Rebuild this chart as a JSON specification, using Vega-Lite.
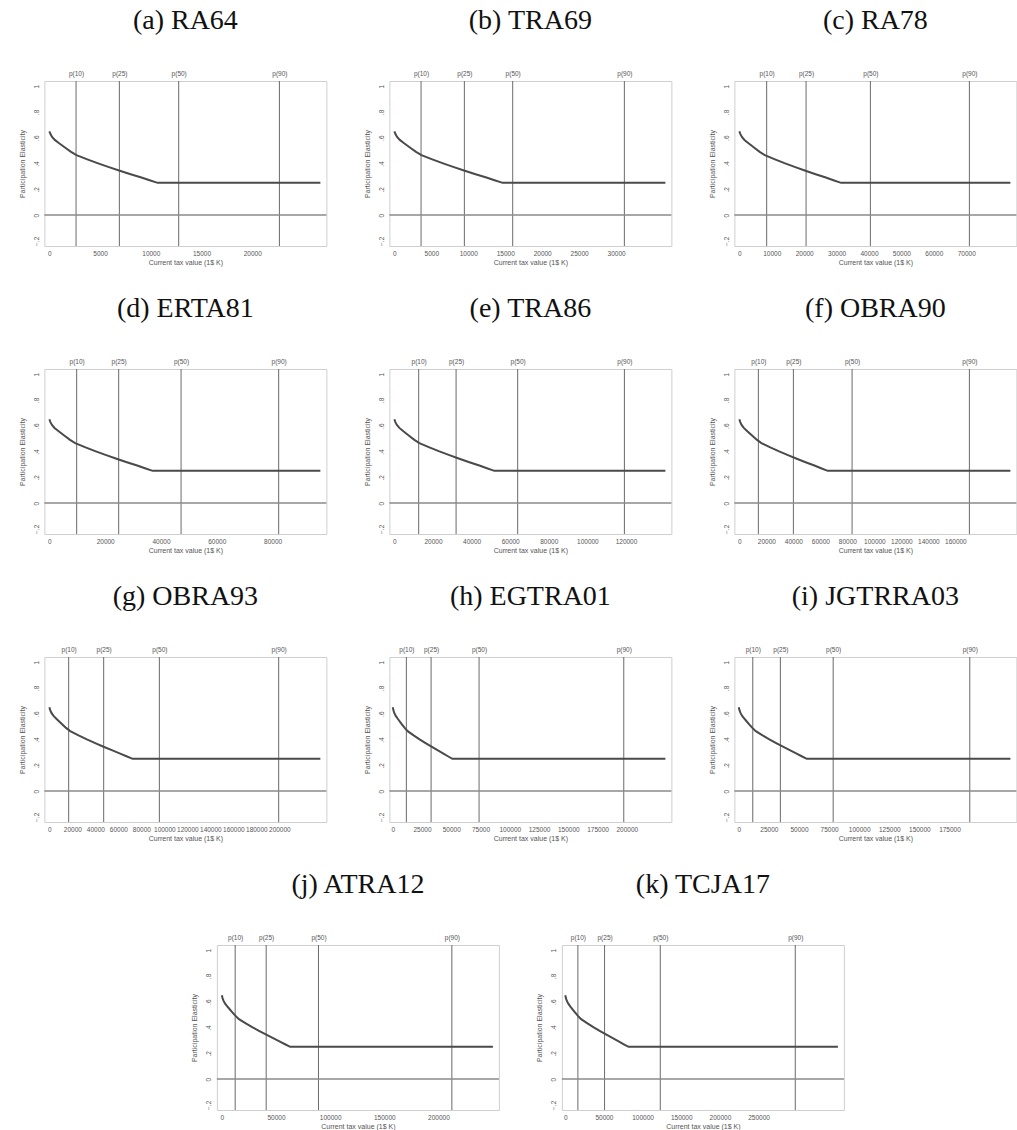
{
"$schema":"https://vega.github.io/schema/vega-lite/v6.json",
"padding":{"left":17,"top":6,"right":0,"bottom":0},
"background":"white",
"config":{
 "font":"Liberation Sans",
 "view":{"stroke":"#cfcfcf","strokeWidth":1},
 "title":{"font":"Liberation Serif","fontSize":28,"fontWeight":"normal","color":"#111","offset":35,"anchor":"middle"},
 "axis":{"labelFontSize":6.5,"titleFontSize":7,"labelColor":"#555","titleColor":"#555","titleFontWeight":"normal","domain":false,"ticks":false,"gridColor":"#efefef","gridWidth":1,"labelOverlap":false},
 "axisY":{"labelOverlap":false,"labelFlush":false,"values":[-0.2,0,0.2,0.4,0.6,0.8,1],"labelExpr":"replace(format(datum.value,'.1~f'),'0.','.')","labelAngle":-90,"labelAlign":"center","labelBaseline":"bottom","labelPadding":5,"titlePadding":8}
},
"datasets":{
"curve":[
{"p":"a","x":0,"y":0.650},{"p":"a","x":107,"y":0.628},{"p":"a","x":267,"y":0.606},{"p":"a","x":534,"y":0.583},{"p":"a","x":961,"y":0.557},{"p":"a","x":1602,"y":0.520},{"p":"a","x":2136,"y":0.490},{"p":"a","x":2670,"y":0.465},{"p":"a","x":3738,"y":0.432},{"p":"a","x":4806,"y":0.401},{"p":"a","x":5874,"y":0.372},{"p":"a","x":6942,"y":0.344},{"p":"a","x":8010,"y":0.317},{"p":"a","x":9078,"y":0.291},{"p":"a","x":9879,"y":0.270},{"p":"a","x":10680,"y":0.250},{"p":"a","x":26720,"y":0.250},
{"p":"b","x":0,"y":0.650},{"p":"b","x":147,"y":0.628},{"p":"b","x":366,"y":0.606},{"p":"b","x":733,"y":0.583},{"p":"b","x":1319,"y":0.557},{"p":"b","x":2198,"y":0.520},{"p":"b","x":2930,"y":0.490},{"p":"b","x":3663,"y":0.465},{"p":"b","x":5128,"y":0.432},{"p":"b","x":6593,"y":0.401},{"p":"b","x":8058,"y":0.372},{"p":"b","x":9523,"y":0.344},{"p":"b","x":10988,"y":0.317},{"p":"b","x":12453,"y":0.291},{"p":"b","x":13551,"y":0.270},{"p":"b","x":14650,"y":0.250},{"p":"b","x":36670,"y":0.250},
{"p":"c","x":0,"y":0.650},{"p":"c","x":314,"y":0.628},{"p":"c","x":785,"y":0.606},{"p":"c","x":1569,"y":0.583},{"p":"c","x":2824,"y":0.557},{"p":"c","x":4707,"y":0.520},{"p":"c","x":6276,"y":0.490},{"p":"c","x":7845,"y":0.465},{"p":"c","x":10983,"y":0.432},{"p":"c","x":14121,"y":0.401},{"p":"c","x":17259,"y":0.372},{"p":"c","x":20397,"y":0.344},{"p":"c","x":23535,"y":0.317},{"p":"c","x":26673,"y":0.291},{"p":"c","x":29027,"y":0.270},{"p":"c","x":31380,"y":0.250},{"p":"c","x":83630,"y":0.250},
{"p":"d","x":0,"y":0.650},{"p":"d","x":370,"y":0.628},{"p":"d","x":926,"y":0.606},{"p":"d","x":1851,"y":0.583},{"p":"d","x":3332,"y":0.557},{"p":"d","x":5553,"y":0.520},{"p":"d","x":7404,"y":0.490},{"p":"d","x":9255,"y":0.465},{"p":"d","x":12957,"y":0.432},{"p":"d","x":16659,"y":0.401},{"p":"d","x":20361,"y":0.372},{"p":"d","x":24063,"y":0.344},{"p":"d","x":27765,"y":0.317},{"p":"d","x":31467,"y":0.291},{"p":"d","x":34244,"y":0.270},{"p":"d","x":37020,"y":0.250},{"p":"d","x":97130,"y":0.250},
{"p":"e","x":0,"y":0.650},{"p":"e","x":518,"y":0.628},{"p":"e","x":1295,"y":0.606},{"p":"e","x":2591,"y":0.583},{"p":"e","x":4663,"y":0.557},{"p":"e","x":7772,"y":0.520},{"p":"e","x":10362,"y":0.490},{"p":"e","x":12953,"y":0.465},{"p":"e","x":18134,"y":0.432},{"p":"e","x":23315,"y":0.401},{"p":"e","x":28496,"y":0.372},{"p":"e","x":33677,"y":0.344},{"p":"e","x":38858,"y":0.317},{"p":"e","x":44039,"y":0.291},{"p":"e","x":47924,"y":0.270},{"p":"e","x":51810,"y":0.250},{"p":"e","x":140400,"y":0.250},
{"p":"f","x":0,"y":0.650},{"p":"f","x":654,"y":0.628},{"p":"f","x":1635,"y":0.606},{"p":"f","x":3270,"y":0.583},{"p":"f","x":5886,"y":0.557},{"p":"f","x":9810,"y":0.520},{"p":"f","x":13080,"y":0.490},{"p":"f","x":16350,"y":0.465},{"p":"f","x":22890,"y":0.432},{"p":"f","x":29430,"y":0.401},{"p":"f","x":35970,"y":0.372},{"p":"f","x":42510,"y":0.344},{"p":"f","x":49050,"y":0.317},{"p":"f","x":55590,"y":0.291},{"p":"f","x":60495,"y":0.270},{"p":"f","x":65400,"y":0.250},{"p":"f","x":200730,"y":0.250},
{"p":"g","x":0,"y":0.650},{"p":"g","x":724,"y":0.628},{"p":"g","x":1811,"y":0.606},{"p":"g","x":3622,"y":0.583},{"p":"g","x":6520,"y":0.557},{"p":"g","x":10866,"y":0.520},{"p":"g","x":14488,"y":0.490},{"p":"g","x":18110,"y":0.465},{"p":"g","x":25354,"y":0.432},{"p":"g","x":32598,"y":0.401},{"p":"g","x":39842,"y":0.372},{"p":"g","x":47086,"y":0.344},{"p":"g","x":54330,"y":0.317},{"p":"g","x":61574,"y":0.291},{"p":"g","x":67007,"y":0.270},{"p":"g","x":72440,"y":0.250},{"p":"g","x":235660,"y":0.250},
{"p":"h","x":0,"y":0.650},{"p":"h","x":509,"y":0.628},{"p":"h","x":1274,"y":0.606},{"p":"h","x":2547,"y":0.583},{"p":"h","x":4585,"y":0.557},{"p":"h","x":7641,"y":0.520},{"p":"h","x":10188,"y":0.490},{"p":"h","x":12735,"y":0.465},{"p":"h","x":17829,"y":0.432},{"p":"h","x":22923,"y":0.401},{"p":"h","x":28017,"y":0.372},{"p":"h","x":33111,"y":0.344},{"p":"h","x":38205,"y":0.317},{"p":"h","x":43299,"y":0.291},{"p":"h","x":47120,"y":0.270},{"p":"h","x":50940,"y":0.250},{"p":"h","x":232990,"y":0.250},
{"p":"i","x":0,"y":0.650},{"p":"i","x":565,"y":0.628},{"p":"i","x":1412,"y":0.606},{"p":"i","x":2824,"y":0.583},{"p":"i","x":5083,"y":0.557},{"p":"i","x":8472,"y":0.520},{"p":"i","x":11296,"y":0.490},{"p":"i","x":14120,"y":0.465},{"p":"i","x":19768,"y":0.432},{"p":"i","x":25416,"y":0.401},{"p":"i","x":31064,"y":0.372},{"p":"i","x":36712,"y":0.344},{"p":"i","x":42360,"y":0.317},{"p":"i","x":48008,"y":0.291},{"p":"i","x":52244,"y":0.270},{"p":"i","x":56480,"y":0.250},{"p":"i","x":225600,"y":0.250},
{"p":"j","x":0,"y":0.650},{"p":"j","x":631,"y":0.628},{"p":"j","x":1577,"y":0.606},{"p":"j","x":3154,"y":0.583},{"p":"j","x":5676,"y":0.557},{"p":"j","x":9461,"y":0.520},{"p":"j","x":12614,"y":0.490},{"p":"j","x":15768,"y":0.465},{"p":"j","x":22075,"y":0.432},{"p":"j","x":28382,"y":0.401},{"p":"j","x":34689,"y":0.372},{"p":"j","x":40996,"y":0.344},{"p":"j","x":47303,"y":0.317},{"p":"j","x":53610,"y":0.291},{"p":"j","x":58340,"y":0.270},{"p":"j","x":63070,"y":0.250},{"p":"j","x":250240,"y":0.250},
{"p":"k","x":0,"y":0.650},{"p":"k","x":819,"y":0.628},{"p":"k","x":2047,"y":0.606},{"p":"k","x":4094,"y":0.583},{"p":"k","x":7368,"y":0.557},{"p":"k","x":12281,"y":0.520},{"p":"k","x":16374,"y":0.490},{"p":"k","x":20468,"y":0.465},{"p":"k","x":28655,"y":0.432},{"p":"k","x":36842,"y":0.401},{"p":"k","x":45029,"y":0.372},{"p":"k","x":53216,"y":0.344},{"p":"k","x":61403,"y":0.317},{"p":"k","x":69590,"y":0.291},{"p":"k","x":75730,"y":0.270},{"p":"k","x":81870,"y":0.250},{"p":"k","x":352560,"y":0.250}
],
"pct":[
{"p":"a","x":2630,"label":"p(10)"},{"p":"a","x":6900,"label":"p(25)"},{"p":"a","x":12750,"label":"p(50)"},{"p":"a","x":22680,"label":"p(90)"},
{"p":"b","x":3610,"label":"p(10)"},{"p":"b","x":9470,"label":"p(25)"},{"p":"b","x":16010,"label":"p(50)"},{"p":"b","x":31120,"label":"p(90)"},
{"p":"c","x":8420,"label":"p(10)"},{"p":"c","x":20580,"label":"p(25)"},{"p":"c","x":40430,"label":"p(50)"},{"p":"c","x":70980,"label":"p(90)"},
{"p":"d","x":9780,"label":"p(10)"},{"p":"d","x":24840,"label":"p(25)"},{"p":"d","x":47200,"label":"p(50)"},{"p":"d","x":82180,"label":"p(90)"},
{"p":"e","x":12590,"label":"p(10)"},{"p":"e","x":31970,"label":"p(25)"},{"p":"e","x":63880,"label":"p(50)"},{"p":"e","x":119170,"label":"p(90)"},
{"p":"f","x":14070,"label":"p(10)"},{"p":"f","x":40000,"label":"p(25)"},{"p":"f","x":83480,"label":"p(50)"},{"p":"f","x":170370,"label":"p(90)"},
{"p":"g","x":16780,"label":"p(10)"},{"p":"g","x":47220,"label":"p(25)"},{"p":"g","x":95650,"label":"p(50)"},{"p":"g","x":199400,"label":"p(90)"},
{"p":"h","x":11620,"label":"p(10)"},{"p":"h","x":32740,"label":"p(25)"},{"p":"h","x":73760,"label":"p(50)"},{"p":"h","x":197440,"label":"p(90)"},
{"p":"i","x":11630,"label":"p(10)"},{"p":"i","x":34550,"label":"p(25)"},{"p":"i","x":78410,"label":"p(50)"},{"p":"i","x":191870,"label":"p(90)"},
{"p":"j","x":12280,"label":"p(10)"},{"p":"j","x":40910,"label":"p(25)"},{"p":"j","x":89200,"label":"p(50)"},{"p":"j","x":212380,"label":"p(90)"},
{"p":"k","x":16300,"label":"p(10)"},{"p":"k","x":50830,"label":"p(25)"},{"p":"k","x":122860,"label":"p(50)"},{"p":"k","x":297460,"label":"p(90)"}
]
},
"vconcat":[
{"hconcat":[
{"width":282,"height":165,"title":"(a) RA64","layer":[
 {"data":{"name":"pct"},"transform":[{"filter":"datum.p=='a'"}],"mark":{"type":"rule","color":"#6a6a6a","strokeWidth":1},
  "encoding":{"x":{"field":"x","type":"quantitative","scale":{"domain":[-493,27310],"nice":false,"zero":false},"axis":{"orient":"top","values":[2630,6900,12750,22680],"labelExpr":"datum.value==2630?'p(10)':datum.value==6900?'p(25)':datum.value==12750?'p(50)':'p(90)'","grid":false,"title":null,"labelPadding":5}}}},
 {"data":{"values":[{}]},"mark":{"type":"rule","color":"#8a8a8a","strokeWidth":1.5},"encoding":{"y":{"datum":0,"type":"quantitative","title":"Participation Elasticity"}}},
 {"data":{"name":"curve"},"transform":[{"filter":"datum.p=='a'"}],"mark":{"type":"line","color":"#4a4a4a","strokeWidth":2},
  "encoding":{"x":{"field":"x","type":"quantitative","axis":{"values":[0,5000,10000,15000,20000],"format":"d","title":"Current tax value (1$ K)","labelPadding":4,"titlePadding":2}},
   "y":{"field":"y","type":"quantitative","scale":{"domain":[-0.24,1.04],"nice":false,"zero":false},"title":"Participation Elasticity"}}}
 ],"resolve":{"axis":{"x":"independent"}}},
{"width":282,"height":165,"title":"(b) TRA69","layer":[
 {"data":{"name":"pct"},"transform":[{"filter":"datum.p=='b'"}],"mark":{"type":"rule","color":"#6a6a6a","strokeWidth":1},
  "encoding":{"x":{"field":"x","type":"quantitative","scale":{"domain":[-677,37480],"nice":false,"zero":false},"axis":{"orient":"top","values":[3610,9470,16010,31120],"labelExpr":"datum.value==3610?'p(10)':datum.value==9470?'p(25)':datum.value==16010?'p(50)':'p(90)'","grid":false,"title":null,"labelPadding":5}}}},
 {"data":{"values":[{}]},"mark":{"type":"rule","color":"#8a8a8a","strokeWidth":1.5},"encoding":{"y":{"datum":0,"type":"quantitative","title":"Participation Elasticity"}}},
 {"data":{"name":"curve"},"transform":[{"filter":"datum.p=='b'"}],"mark":{"type":"line","color":"#4a4a4a","strokeWidth":2},
  "encoding":{"x":{"field":"x","type":"quantitative","axis":{"values":[0,5000,10000,15000,20000,25000,30000],"format":"d","title":"Current tax value (1$ K)","labelPadding":4,"titlePadding":2}},
   "y":{"field":"y","type":"quantitative","scale":{"domain":[-0.24,1.04],"nice":false,"zero":false},"title":"Participation Elasticity"}}}
 ],"resolve":{"axis":{"x":"independent"}}},
{"width":282,"height":165,"title":"(c) RA78","layer":[
 {"data":{"name":"pct"},"transform":[{"filter":"datum.p=='c'"}],"mark":{"type":"rule","color":"#6a6a6a","strokeWidth":1},
  "encoding":{"x":{"field":"x","type":"quantitative","scale":{"domain":[-1543,85480],"nice":false,"zero":false},"axis":{"orient":"top","values":[8420,20580,40430,70980],"labelExpr":"datum.value==8420?'p(10)':datum.value==20580?'p(25)':datum.value==40430?'p(50)':'p(90)'","grid":false,"title":null,"labelPadding":5}}}},
 {"data":{"values":[{}]},"mark":{"type":"rule","color":"#8a8a8a","strokeWidth":1.5},"encoding":{"y":{"datum":0,"type":"quantitative","title":"Participation Elasticity"}}},
 {"data":{"name":"curve"},"transform":[{"filter":"datum.p=='c'"}],"mark":{"type":"line","color":"#4a4a4a","strokeWidth":2},
  "encoding":{"x":{"field":"x","type":"quantitative","axis":{"values":[0,10000,20000,30000,40000,50000,60000,70000],"format":"d","title":"Current tax value (1$ K)","labelPadding":4,"titlePadding":2}},
   "y":{"field":"y","type":"quantitative","scale":{"domain":[-0.24,1.04],"nice":false,"zero":false},"title":"Participation Elasticity"}}}
 ],"resolve":{"axis":{"x":"independent"}}}
],"spacing":63,"bounds":"flush"},
{"hconcat":[
{"width":282,"height":165,"title":"(d) ERTA81","layer":[
 {"data":{"name":"pct"},"transform":[{"filter":"datum.p=='d'"}],"mark":{"type":"rule","color":"#6a6a6a","strokeWidth":1},
  "encoding":{"x":{"field":"x","type":"quantitative","scale":{"domain":[-1792,99280],"nice":false,"zero":false},"axis":{"orient":"top","values":[9780,24840,47200,82180],"labelExpr":"datum.value==9780?'p(10)':datum.value==24840?'p(25)':datum.value==47200?'p(50)':'p(90)'","grid":false,"title":null,"labelPadding":5}}}},
 {"data":{"values":[{}]},"mark":{"type":"rule","color":"#8a8a8a","strokeWidth":1.5},"encoding":{"y":{"datum":0,"type":"quantitative","title":"Participation Elasticity"}}},
 {"data":{"name":"curve"},"transform":[{"filter":"datum.p=='d'"}],"mark":{"type":"line","color":"#4a4a4a","strokeWidth":2},
  "encoding":{"x":{"field":"x","type":"quantitative","axis":{"values":[0,20000,40000,60000,80000],"format":"d","title":"Current tax value (1$ K)","labelPadding":4,"titlePadding":2}},
   "y":{"field":"y","type":"quantitative","scale":{"domain":[-0.24,1.04],"nice":false,"zero":false},"title":"Participation Elasticity"}}}
 ],"resolve":{"axis":{"x":"independent"}}},
{"width":282,"height":165,"title":"(e) TRA86","layer":[
 {"data":{"name":"pct"},"transform":[{"filter":"datum.p=='e'"}],"mark":{"type":"rule","color":"#6a6a6a","strokeWidth":1},
  "encoding":{"x":{"field":"x","type":"quantitative","scale":{"domain":[-2590,143510],"nice":false,"zero":false},"axis":{"orient":"top","values":[12590,31970,63880,119170],"labelExpr":"datum.value==12590?'p(10)':datum.value==31970?'p(25)':datum.value==63880?'p(50)':'p(90)'","grid":false,"title":null,"labelPadding":5}}}},
 {"data":{"values":[{}]},"mark":{"type":"rule","color":"#8a8a8a","strokeWidth":1.5},"encoding":{"y":{"datum":0,"type":"quantitative","title":"Participation Elasticity"}}},
 {"data":{"name":"curve"},"transform":[{"filter":"datum.p=='e'"}],"mark":{"type":"line","color":"#4a4a4a","strokeWidth":2},
  "encoding":{"x":{"field":"x","type":"quantitative","axis":{"values":[0,20000,40000,60000,80000,100000,120000],"format":"d","title":"Current tax value (1$ K)","labelPadding":4,"titlePadding":2}},
   "y":{"field":"y","type":"quantitative","scale":{"domain":[-0.24,1.04],"nice":false,"zero":false},"title":"Participation Elasticity"}}}
 ],"resolve":{"axis":{"x":"independent"}}},
{"width":282,"height":165,"title":"(f) OBRA90","layer":[
 {"data":{"name":"pct"},"transform":[{"filter":"datum.p=='f'"}],"mark":{"type":"rule","color":"#6a6a6a","strokeWidth":1},
  "encoding":{"x":{"field":"x","type":"quantitative","scale":{"domain":[-3704,205170],"nice":false,"zero":false},"axis":{"orient":"top","values":[14070,40000,83480,170370],"labelExpr":"datum.value==14070?'p(10)':datum.value==40000?'p(25)':datum.value==83480?'p(50)':'p(90)'","grid":false,"title":null,"labelPadding":5}}}},
 {"data":{"values":[{}]},"mark":{"type":"rule","color":"#8a8a8a","strokeWidth":1.5},"encoding":{"y":{"datum":0,"type":"quantitative","title":"Participation Elasticity"}}},
 {"data":{"name":"curve"},"transform":[{"filter":"datum.p=='f'"}],"mark":{"type":"line","color":"#4a4a4a","strokeWidth":2},
  "encoding":{"x":{"field":"x","type":"quantitative","axis":{"values":[0,20000,40000,60000,80000,100000,120000,140000,160000],"format":"d","title":"Current tax value (1$ K)","labelPadding":4,"titlePadding":2}},
   "y":{"field":"y","type":"quantitative","scale":{"domain":[-0.24,1.04],"nice":false,"zero":false},"title":"Participation Elasticity"}}}
 ],"resolve":{"axis":{"x":"independent"}}}
],"spacing":63,"bounds":"flush"},
{"hconcat":[
{"width":282,"height":165,"title":"(g) OBRA93","layer":[
 {"data":{"name":"pct"},"transform":[{"filter":"datum.p=='g'"}],"mark":{"type":"rule","color":"#6a6a6a","strokeWidth":1},
  "encoding":{"x":{"field":"x","type":"quantitative","scale":{"domain":[-4348,240880],"nice":false,"zero":false},"axis":{"orient":"top","values":[16780,47220,95650,199400],"labelExpr":"datum.value==16780?'p(10)':datum.value==47220?'p(25)':datum.value==95650?'p(50)':'p(90)'","grid":false,"title":null,"labelPadding":5}}}},
 {"data":{"values":[{}]},"mark":{"type":"rule","color":"#8a8a8a","strokeWidth":1.5},"encoding":{"y":{"datum":0,"type":"quantitative","title":"Participation Elasticity"}}},
 {"data":{"name":"curve"},"transform":[{"filter":"datum.p=='g'"}],"mark":{"type":"line","color":"#4a4a4a","strokeWidth":2},
  "encoding":{"x":{"field":"x","type":"quantitative","axis":{"values":[0,20000,40000,60000,80000,100000,120000,140000,160000,180000,200000],"format":"d","title":"Current tax value (1$ K)","labelPadding":4,"titlePadding":2}},
   "y":{"field":"y","type":"quantitative","scale":{"domain":[-0.24,1.04],"nice":false,"zero":false},"title":"Participation Elasticity"}}}
 ],"resolve":{"axis":{"x":"independent"}}},
{"width":282,"height":165,"title":"(h) EGTRA01","layer":[
 {"data":{"name":"pct"},"transform":[{"filter":"datum.p=='h'"}],"mark":{"type":"rule","color":"#6a6a6a","strokeWidth":1},
  "encoding":{"x":{"field":"x","type":"quantitative","scale":{"domain":[-2906,238120],"nice":false,"zero":false},"axis":{"orient":"top","values":[11620,32740,73760,197440],"labelExpr":"datum.value==11620?'p(10)':datum.value==32740?'p(25)':datum.value==73760?'p(50)':'p(90)'","grid":false,"title":null,"labelPadding":5}}}},
 {"data":{"values":[{}]},"mark":{"type":"rule","color":"#8a8a8a","strokeWidth":1.5},"encoding":{"y":{"datum":0,"type":"quantitative","title":"Participation Elasticity"}}},
 {"data":{"name":"curve"},"transform":[{"filter":"datum.p=='h'"}],"mark":{"type":"line","color":"#4a4a4a","strokeWidth":2},
  "encoding":{"x":{"field":"x","type":"quantitative","axis":{"values":[0,25000,50000,75000,100000,125000,150000,175000,200000],"format":"d","title":"Current tax value (1$ K)","labelPadding":4,"titlePadding":2}},
   "y":{"field":"y","type":"quantitative","scale":{"domain":[-0.24,1.04],"nice":false,"zero":false},"title":"Participation Elasticity"}}}
 ],"resolve":{"axis":{"x":"independent"}}},
{"width":282,"height":165,"title":"(i) JGTRRA03","layer":[
 {"data":{"name":"pct"},"transform":[{"filter":"datum.p=='i'"}],"mark":{"type":"rule","color":"#6a6a6a","strokeWidth":1},
  "encoding":{"x":{"field":"x","type":"quantitative","scale":{"domain":[-3655,230570],"nice":false,"zero":false},"axis":{"orient":"top","values":[11630,34550,78410,191870],"labelExpr":"datum.value==11630?'p(10)':datum.value==34550?'p(25)':datum.value==78410?'p(50)':'p(90)'","grid":false,"title":null,"labelPadding":5}}}},
 {"data":{"values":[{}]},"mark":{"type":"rule","color":"#8a8a8a","strokeWidth":1.5},"encoding":{"y":{"datum":0,"type":"quantitative","title":"Participation Elasticity"}}},
 {"data":{"name":"curve"},"transform":[{"filter":"datum.p=='i'"}],"mark":{"type":"line","color":"#4a4a4a","strokeWidth":2},
  "encoding":{"x":{"field":"x","type":"quantitative","axis":{"values":[0,25000,50000,75000,100000,125000,150000,175000],"format":"d","title":"Current tax value (1$ K)","labelPadding":4,"titlePadding":2}},
   "y":{"field":"y","type":"quantitative","scale":{"domain":[-0.24,1.04],"nice":false,"zero":false},"title":"Participation Elasticity"}}}
 ],"resolve":{"axis":{"x":"independent"}}}
],"spacing":63,"bounds":"flush"},
{"hconcat":[
{"width":282,"height":165,"title":"(j) ATRA12","layer":[
 {"data":{"name":"pct"},"transform":[{"filter":"datum.p=='j'"}],"mark":{"type":"rule","color":"#6a6a6a","strokeWidth":1},
  "encoding":{"x":{"field":"x","type":"quantitative","scale":{"domain":[-4617,255780],"nice":false,"zero":false},"axis":{"orient":"top","values":[12280,40910,89200,212380],"labelExpr":"datum.value==12280?'p(10)':datum.value==40910?'p(25)':datum.value==89200?'p(50)':'p(90)'","grid":false,"title":null,"labelPadding":5}}}},
 {"data":{"values":[{}]},"mark":{"type":"rule","color":"#8a8a8a","strokeWidth":1.5},"encoding":{"y":{"datum":0,"type":"quantitative","title":"Participation Elasticity"}}},
 {"data":{"name":"curve"},"transform":[{"filter":"datum.p=='j'"}],"mark":{"type":"line","color":"#4a4a4a","strokeWidth":2},
  "encoding":{"x":{"field":"x","type":"quantitative","axis":{"values":[0,50000,100000,150000,200000],"format":"d","title":"Current tax value (1$ K)","labelPadding":4,"titlePadding":2}},
   "y":{"field":"y","type":"quantitative","scale":{"domain":[-0.24,1.04],"nice":false,"zero":false},"title":"Participation Elasticity"}}}
 ],"resolve":{"axis":{"x":"independent"}}},
{"width":282,"height":165,"title":"(k) TCJA17","layer":[
 {"data":{"name":"pct"},"transform":[{"filter":"datum.p=='k'"}],"mark":{"type":"rule","color":"#6a6a6a","strokeWidth":1},
  "encoding":{"x":{"field":"x","type":"quantitative","scale":{"domain":[-4397,360310],"nice":false,"zero":false},"axis":{"orient":"top","values":[16300,50830,122860,297460],"labelExpr":"datum.value==16300?'p(10)':datum.value==50830?'p(25)':datum.value==122860?'p(50)':'p(90)'","grid":false,"title":null,"labelPadding":5}}}},
 {"data":{"values":[{}]},"mark":{"type":"rule","color":"#8a8a8a","strokeWidth":1.5},"encoding":{"y":{"datum":0,"type":"quantitative","title":"Participation Elasticity"}}},
 {"data":{"name":"curve"},"transform":[{"filter":"datum.p=='k'"}],"mark":{"type":"line","color":"#4a4a4a","strokeWidth":2},
  "encoding":{"x":{"field":"x","type":"quantitative","axis":{"values":[0,50000,100000,150000,200000,250000],"format":"d","title":"Current tax value (1$ K)","labelPadding":4,"titlePadding":2}},
   "y":{"field":"y","type":"quantitative","scale":{"domain":[-0.24,1.04],"nice":false,"zero":false},"title":"Participation Elasticity"}}}
 ],"resolve":{"axis":{"x":"independent"}}}
],"spacing":63,"bounds":"flush"}
],"spacing":28,"center":true
}
